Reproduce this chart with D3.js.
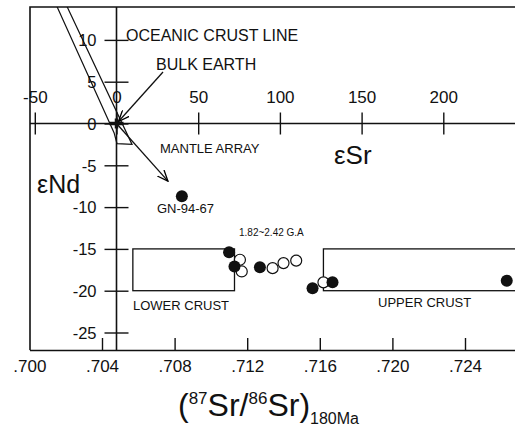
<!DOCTYPE html>
<html>
<head>
<meta charset="utf-8">
<script src="https://cdn.jsdelivr.net/npm/d3@7"></script>
<style>
  html, body { margin: 0; padding: 0; background: #fff; }
  svg { display: block; font-family: "Liberation Sans", Arial, sans-serif; }
</style>
</head>
<body>
<svg id="chart" width="515" height="432"></svg>
<script>
// ---------- data ----------
const ratioTicks = [0.700, 0.704, 0.708, 0.712, 0.716, 0.720, 0.724];
const epsSrTicks = [-50, 0, 50, 100, 150, 200];
const epsNdTicks = [10, 5, 0, -5, -10, -15, -20, -25];

// filled circles: (87Sr/86Sr)180Ma, eNd
const filledRatio = [0.7084, 0.7110, 0.7113, 0.7127, 0.7156, 0.7167, 0.7263];
const filledEpsNd = [-8.7, -15.4, -17.1, -17.2, -19.7, -19.0, -18.8];
// open circles
const openRatio = [0.7116, 0.7117, 0.7134, 0.7140, 0.7147, 0.7162];
const openEpsNd = [-16.3, -17.7, -17.3, -16.7, -16.4, -19.0];

// crust fields (ratio range, eNd range)
const lowerCrustRatio = [0.7057, 0.7113];
const upperCrustRatio = [0.7162, 0.7300];
const crustEpsNd = [-15, -20];

// oceanic crust line band (eSr, eNd)
const bandEpsSr = [-37.6, -31.5, 9.5, 0.3, -1.5];
const bandEpsNd = [14.5, 14.5, -2.5, -2.4, -1.1];

// mantle array arrow end (eSr, eNd)
const mantleEnd = [31.5, -6.9];

// ---------- scales ----------
const W = 515, H = 432;
const pL = 30, pT = 7, pB = 350, pR = 515;

const xR = d3.scaleLinear().domain([0.700, 0.728]).range([29.4, 29.4 + 72.6 * 7]);
const xE = d3.scaleLinear().domain([0, 50]).range([116.5, 198.2]);
const yE = d3.scaleLinear().domain([0, -5]).range([123.5, 165.3]);

const svg = d3.select("#chart");
const defs = svg.append("defs");

defs.append("clipPath").attr("id", "plot")
  .append("rect").attr("x", pL).attr("y", pT)
  .attr("width", pR - pL).attr("height", pB - pT);

defs.append("marker")
  .attr("id", "arr").attr("viewBox", "0 0 12 10")
  .attr("refX", 11).attr("refY", 5)
  .attr("markerWidth", 12).attr("markerHeight", 10)
  .attr("markerUnits", "userSpaceOnUse")
  .attr("orient", "auto")
  .append("path").attr("d", "M0,0.5 L11,5 L0,9.5")
  .attr("fill", "none").attr("stroke", "#000").attr("stroke-width", 1.3);

const ink = "#111";

// frame (left + top)
svg.append("path")
  .attr("d", `M${pL},${pB} L${pL},${pT} L${pR},${pT}`)
  .attr("fill", "none").attr("stroke", ink).attr("stroke-width", 1.6);

// ---------- bottom ratio axis ----------
const gB = svg.append("g").attr("transform", `translate(0,${pB})`)
  .call(d3.axisBottom(xR).tickValues(ratioTicks)
    .tickFormat(d => d3.format(".3f")(d).slice(1))
    .tickSizeInner(-12).tickSizeOuter(0).tickPadding(10));
gB.select(".domain").attr("stroke", ink).attr("stroke-width", 1.6);
gB.selectAll(".tick line").attr("stroke", ink).attr("stroke-width", 1.4);
gB.selectAll(".tick text").attr("font-size", 17).attr("fill", ink)
  .attr("font-family", "Liberation Sans, Arial, sans-serif");
gB.selectAll(".tick").filter(d => d === 0.700).select("line").remove();

// ---------- eSr horizontal axis (at eNd = 0) ----------
const gS = svg.append("g").attr("transform", `translate(0,${yE(0)})`)
  .call(d3.axisTop(xE).tickValues(epsSrTicks).tickFormat(d3.format("d"))
    .tickSizeOuter(0));
gS.select(".domain").remove();
gS.append("line").attr("x1", pL).attr("x2", pR)
  .attr("stroke", ink).attr("stroke-width", 1.6);
gS.selectAll(".tick line").attr("y1", -11).attr("y2", 11)
  .attr("stroke", ink).attr("stroke-width", 1.4);
gS.selectAll(".tick text").attr("y", -21).attr("dy", 0)
  .attr("font-size", 17).attr("fill", ink)
  .attr("font-family", "Liberation Sans, Arial, sans-serif");
gS.selectAll(".tick text").text(d => d < 0 ? "-" + Math.abs(d) : d);

// ---------- eNd vertical axis (at eSr = 0) ----------
const gN = svg.append("g").attr("transform", `translate(${xE(0)},0)`)
  .call(d3.axisLeft(yE).tickValues(epsNdTicks).tickFormat(d3.format("d"))
    .tickSizeOuter(0));
gN.select(".domain").remove();
gN.append("line").attr("y1", pT).attr("y2", pB)
  .attr("stroke", ink).attr("stroke-width", 1.6);
gN.selectAll(".tick line").attr("x1", -12).attr("x2", 12)
  .attr("stroke", ink).attr("stroke-width", 1.4);
gN.selectAll(".tick text").attr("x", -20).attr("dy", "0.35em")
  .attr("font-size", 16.5).attr("fill", ink)
  .attr("font-family", "Liberation Sans, Arial, sans-serif");
gN.selectAll(".tick text").text(d => d < 0 ? "-" + Math.abs(d) : d);

// ---------- plot content ----------
const plot = svg.append("g").attr("clip-path", "url(#plot)");

// oceanic crust band
const band = bandEpsSr.map((s, i) => [xE(s), yE(bandEpsNd[i])]);
plot.append("path")
  .attr("d", d3.line()(band) + "Z")
  .attr("fill", "none").attr("stroke", ink).attr("stroke-width", 1.2);

// crust boxes
[lowerCrustRatio, upperCrustRatio].forEach(r => {
  plot.append("rect")
    .attr("x", xR(r[0])).attr("y", yE(crustEpsNd[0]))
    .attr("width", xR(r[1]) - xR(r[0]))
    .attr("height", yE(crustEpsNd[1]) - yE(crustEpsNd[0]))
    .attr("fill", "none").attr("stroke", ink).attr("stroke-width", 1.3);
});

// mantle array arrow
plot.append("line")
  .attr("x1", xE(0)).attr("y1", yE(0))
  .attr("x2", xE(mantleEnd[0])).attr("y2", yE(mantleEnd[1]))
  .attr("stroke", ink).attr("stroke-width", 1.3)
  .attr("marker-end", "url(#arr)");

// bulk earth arrow
plot.append("line")
  .attr("x1", 163).attr("y1", 72)
  .attr("x2", xE(0) + 2).attr("y2", yE(0) - 2)
  .attr("stroke", ink).attr("stroke-width", 1.3)
  .attr("marker-end", "url(#arr)");

// bulk earth bold mark at origin
plot.append("path")
  .attr("d", `M${xE(0) - 7},${yE(0)} L${xE(0) + 7},${yE(0)} M${xE(0)},${yE(0) - 5} L${xE(0)},${yE(0) + 5}`)
  .attr("stroke", ink).attr("stroke-width", 3.5);

// data points: open first, then filled
plot.selectAll("circle.open").data(openRatio).join("circle")
  .attr("class", "open")
  .attr("cx", d => xR(d)).attr("cy", (d, i) => yE(openEpsNd[i]))
  .attr("r", 5.5).attr("fill", "#fff").attr("stroke", ink).attr("stroke-width", 1.2);
plot.selectAll("circle.filled").data(filledRatio).join("circle")
  .attr("class", "filled")
  .attr("cx", d => xR(d)).attr("cy", (d, i) => yE(filledEpsNd[i]))
  .attr("r", 6).attr("fill", ink);

// ---------- text annotations ----------
const txt = (x, y, s, size, anchor) => svg.append("text")
  .attr("x", x).attr("y", y).attr("font-size", size).attr("fill", ink)
  .attr("text-anchor", anchor || "start").text(s);

txt(126, 41, "OCEANIC CRUST LINE", 16);
txt(156, 70, "BULK EARTH", 16);
txt(160, 153, "MANTLE ARRAY", 13);
txt(157, 213, "GN-94-67", 13);
txt(239, 236, "1.82~2.42 G.A", 10);
txt(133, 310, "LOWER CRUST", 13);
txt(378, 307, "UPPER CRUST", 13);

// axis titles
svg.append("text").attr("x", 334).attr("y", 164)
  .attr("font-size", 26).attr("fill", ink).text("εSr");
svg.append("text").attr("x", 37).attr("y", 192.5)
  .attr("font-size", 25).attr("fill", ink).text("εNd");

const t = svg.append("text").attr("x", 178).attr("y", 416).attr("fill", ink)
  .attr("font-size", 32);
t.append("tspan").text("(");
t.append("tspan").attr("font-size", 17).attr("dy", -12).text("87");
t.append("tspan").attr("dy", 12).text("Sr/");
t.append("tspan").attr("font-size", 17).attr("dy", -12).text("86");
t.append("tspan").attr("dy", 12).text("Sr)");
t.append("tspan").attr("font-size", 16).attr("dy", 8).text("180Ma");
</script>
</body>
</html>
